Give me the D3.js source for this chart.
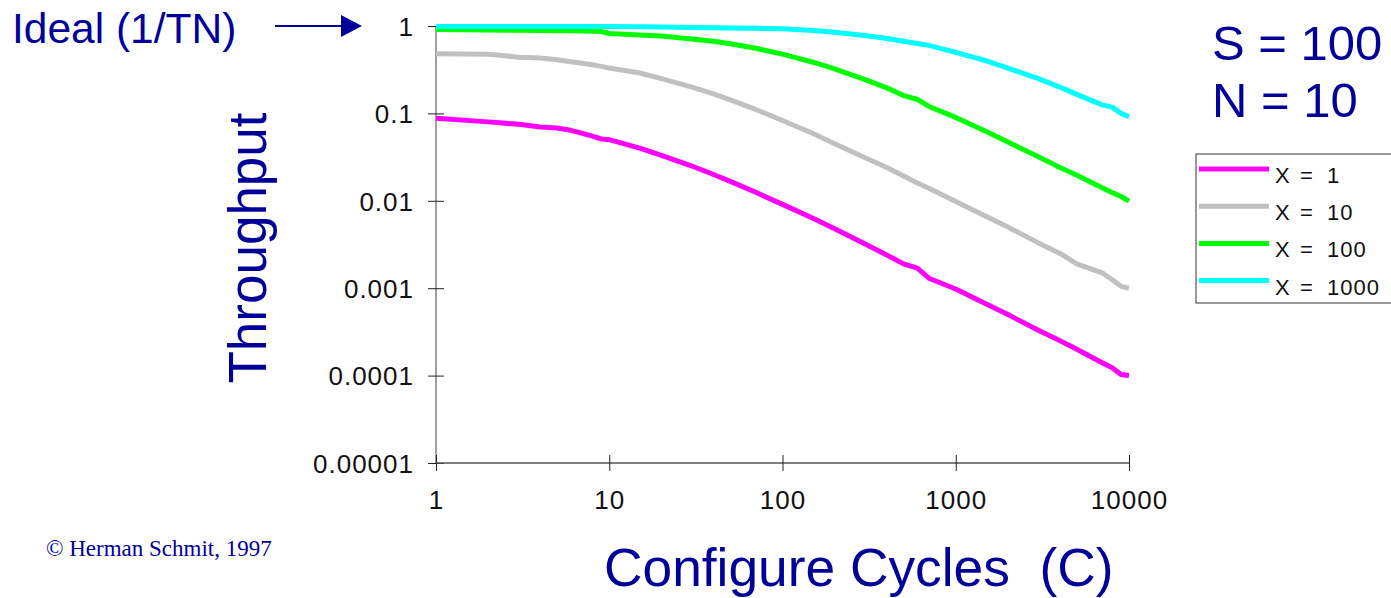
<!DOCTYPE html>
<html>
<head>
<meta charset="utf-8">
<script src="https://cdn.jsdelivr.net/npm/d3@7"></script>
<style>
    body { margin: 0; background: #fff; }
    svg { display: block; }
</style>
</head>
<body>
<svg id="chart" width="1391" height="598"></svg>
<script>
const cycles = [1, 2, 3, 4, 5, 6, 7, 8, 9, 10, 15, 20, 30, 40, 50, 70, 100, 150, 200, 300, 400, 500, 600, 700, 1000, 1500, 2000, 3000, 4000, 5000, 7000, 8000, 9000, 10000];

const x1 = [0.088, 0.080, 0.075, 0.070, 0.068, 0.064, 0.059, 0.055, 0.051, 0.050, 0.040, 0.033, 0.025, 0.020, 0.0167, 0.0125, 0.0091, 0.0063, 0.0048, 0.0032, 0.0024, 0.0019, 0.0017, 0.0013, 0.00098, 0.00066, 0.0005, 0.00033, 0.00025, 0.0002, 0.00014, 0.000123, 0.000103, 0.0001];
const x10 = [0.48, 0.475, 0.44, 0.43, 0.41, 0.39, 0.375, 0.36, 0.345, 0.33, 0.29, 0.25, 0.20, 0.167, 0.143, 0.111, 0.083, 0.059, 0.045, 0.031, 0.024, 0.0192, 0.016, 0.0139, 0.0098, 0.0066, 0.005, 0.0033, 0.0025, 0.0019, 0.0015, 0.00125, 0.00105, 0.001];
const x100 = [0.91, 0.90, 0.895, 0.89, 0.885, 0.88, 0.875, 0.87, 0.865, 0.82, 0.79, 0.77, 0.71, 0.67, 0.625, 0.556, 0.476, 0.385, 0.323, 0.244, 0.196, 0.160, 0.145, 0.120, 0.090, 0.062, 0.047, 0.032, 0.024, 0.0196, 0.0141, 0.0124, 0.0112, 0.0099];
const x1000 = [0.99, 0.99, 0.99, 0.99, 0.99, 0.99, 0.99, 0.99, 0.99, 0.985, 0.98, 0.975, 0.96, 0.955, 0.95, 0.94, 0.93, 0.89, 0.85, 0.78, 0.72, 0.67, 0.63, 0.60, 0.50, 0.40, 0.33, 0.25, 0.20, 0.165, 0.125, 0.118, 0.100, 0.092];

const seriesNames = ['X = 1', 'X = 10', 'X = 100', 'X = 1000'];
const seriesColors = ['#ff00ff', '#c0c0c0', '#00ff00', '#00ffff'];

const xTicks = [1, 10, 100, 1000, 10000];
const xTickLabels = ['1', '10', '100', '1000', '10000'];
const yTicks = [1, 0.1, 0.01, 0.001, 0.0001, 0.00001];
const yTickLabels = ['1', '0.1', '0.01', '0.001', '0.0001', '0.00001'];

const navy = '#000099';
const sans = 'Arial, "Liberation Sans", sans-serif';

const svg = d3.select('#chart');

const x = d3.scaleLog()
    .domain([1, 10000])
    .range([436, 1129]);

const y = d3.scaleLog()
    .domain([0.00001, 1])
    .range([463, 26]);

// axes
const yAxis = svg.append('g')
    .attr('transform', `translate(${x(1)},0)`)
    .call(d3.axisLeft(y).tickValues(yTicks).tickSize(8).tickPadding(14)
        .tickFormat((d, i) => yTickLabels[i]));

yAxis.select('.domain').attr('stroke', '#808080').attr('stroke-width', 1.5)
    .attr('d', `M0,${y(1)}V${y(0.00001)}`);
yAxis.selectAll('.tick line').attr('x1', 8).attr('stroke', '#222');
yAxis.selectAll('.tick text')
    .attr('font-family', sans).attr('font-size', 26).attr('letter-spacing', 1)
    .attr('fill', '#111').attr('dy', '0.36em');

const xAxis = svg.append('g')
    .attr('transform', `translate(0,${y(0.00001)})`)
    .call(d3.axisBottom(x).tickValues(xTicks).tickSize(8).tickPadding(20)
        .tickFormat((d, i) => xTickLabels[i]));

xAxis.select('.domain').attr('stroke', '#555').attr('stroke-width', 1.5)
    .attr('d', `M${x(1)},0H${x(10000)}`);
xAxis.selectAll('.tick line').attr('y1', -8).attr('stroke', '#222');
xAxis.selectAll('.tick text')
    .attr('font-family', sans).attr('font-size', 26).attr('letter-spacing', 1)
    .attr('fill', '#111');

// curves
const allSeries = [x1, x10, x100, x1000];

const line = d3.line()
    .x((d, i) => x(cycles[i]))
    .y(d => y(d));

svg.append('g')
    .selectAll('path')
    .data(allSeries)
    .enter()
    .append('path')
    .attr('fill', 'none')
    .attr('stroke', (d, i) => seriesColors[i])
    .attr('stroke-width', 5)
    .attr('stroke-linejoin', 'round')
    .attr('d', line);

// legend
const legend = svg.append('g');

legend.append('rect')
    .attr('x', 1196)
    .attr('y', 154)
    .attr('width', 210)
    .attr('height', 149)
    .attr('fill', 'none')
    .attr('stroke', '#333')
    .attr('stroke-width', 1);

const rows = legend.selectAll('.row')
    .data(seriesNames)
    .enter()
    .append('g')
    .attr('transform', (d, i) => `translate(0,${169 + i * 37.2})`);

rows.append('line')
    .attr('x1', 1199)
    .attr('x2', 1269)
    .attr('stroke', (d, i) => seriesColors[i])
    .attr('stroke-width', 5);

const rowText = rows.append('text')
    .attr('y', 14)
    .attr('font-family', sans)
    .attr('font-size', 22)
    .attr('fill', '#111');

rowText.append('tspan').attr('x', 1275).text('X');
rowText.append('tspan').attr('x', 1300).text('=');
rowText.append('tspan').attr('x', 1327).attr('letter-spacing', 1).text(d => d.split('= ')[1]);

// titles and notes
svg.append('text')
    .attr('x', 12).attr('y', 43)
    .attr('font-family', sans).attr('font-size', 42.5)
    .attr('fill', navy)
    .text('Ideal (1/TN)');

svg.append('line')
    .attr('x1', 275).attr('x2', 345)
    .attr('y1', 26).attr('y2', 26)
    .attr('stroke', navy).attr('stroke-width', 2);

svg.append('path')
    .attr('d', 'M341,15L362,26L341,37Z')
    .attr('fill', navy);

svg.append('text')
    .attr('x', 1212).attr('y', 60)
    .attr('font-family', sans).attr('font-size', 49)
    .attr('fill', navy)
    .text('S = 100');

svg.append('text')
    .attr('x', 1212).attr('y', 117)
    .attr('font-family', sans).attr('font-size', 49)
    .attr('fill', navy)
    .text('N = 10');

svg.append('text')
    .attr('transform', 'translate(266,248) rotate(-90)')
    .attr('text-anchor', 'middle')
    .attr('font-family', sans).attr('font-size', 53)
    .attr('fill', navy)
    .text('Throughput');

svg.append('text')
    .attr('x', 604).attr('y', 586)
    .attr('font-family', sans).attr('font-size', 53.3)
    .attr('fill', navy)
    .attr('xml:space', 'preserve')
    .style('white-space', 'pre')
    .text('Configure Cycles  (C)');

svg.append('text')
    .attr('x', 46).attr('y', 556)
    .attr('font-family', '"Times New Roman", "Liberation Serif", serif')
    .attr('font-size', 23)
    .attr('fill', navy)
    .text('\u00a9 Herman Schmit, 1997');
</script>
</body>
</html>
